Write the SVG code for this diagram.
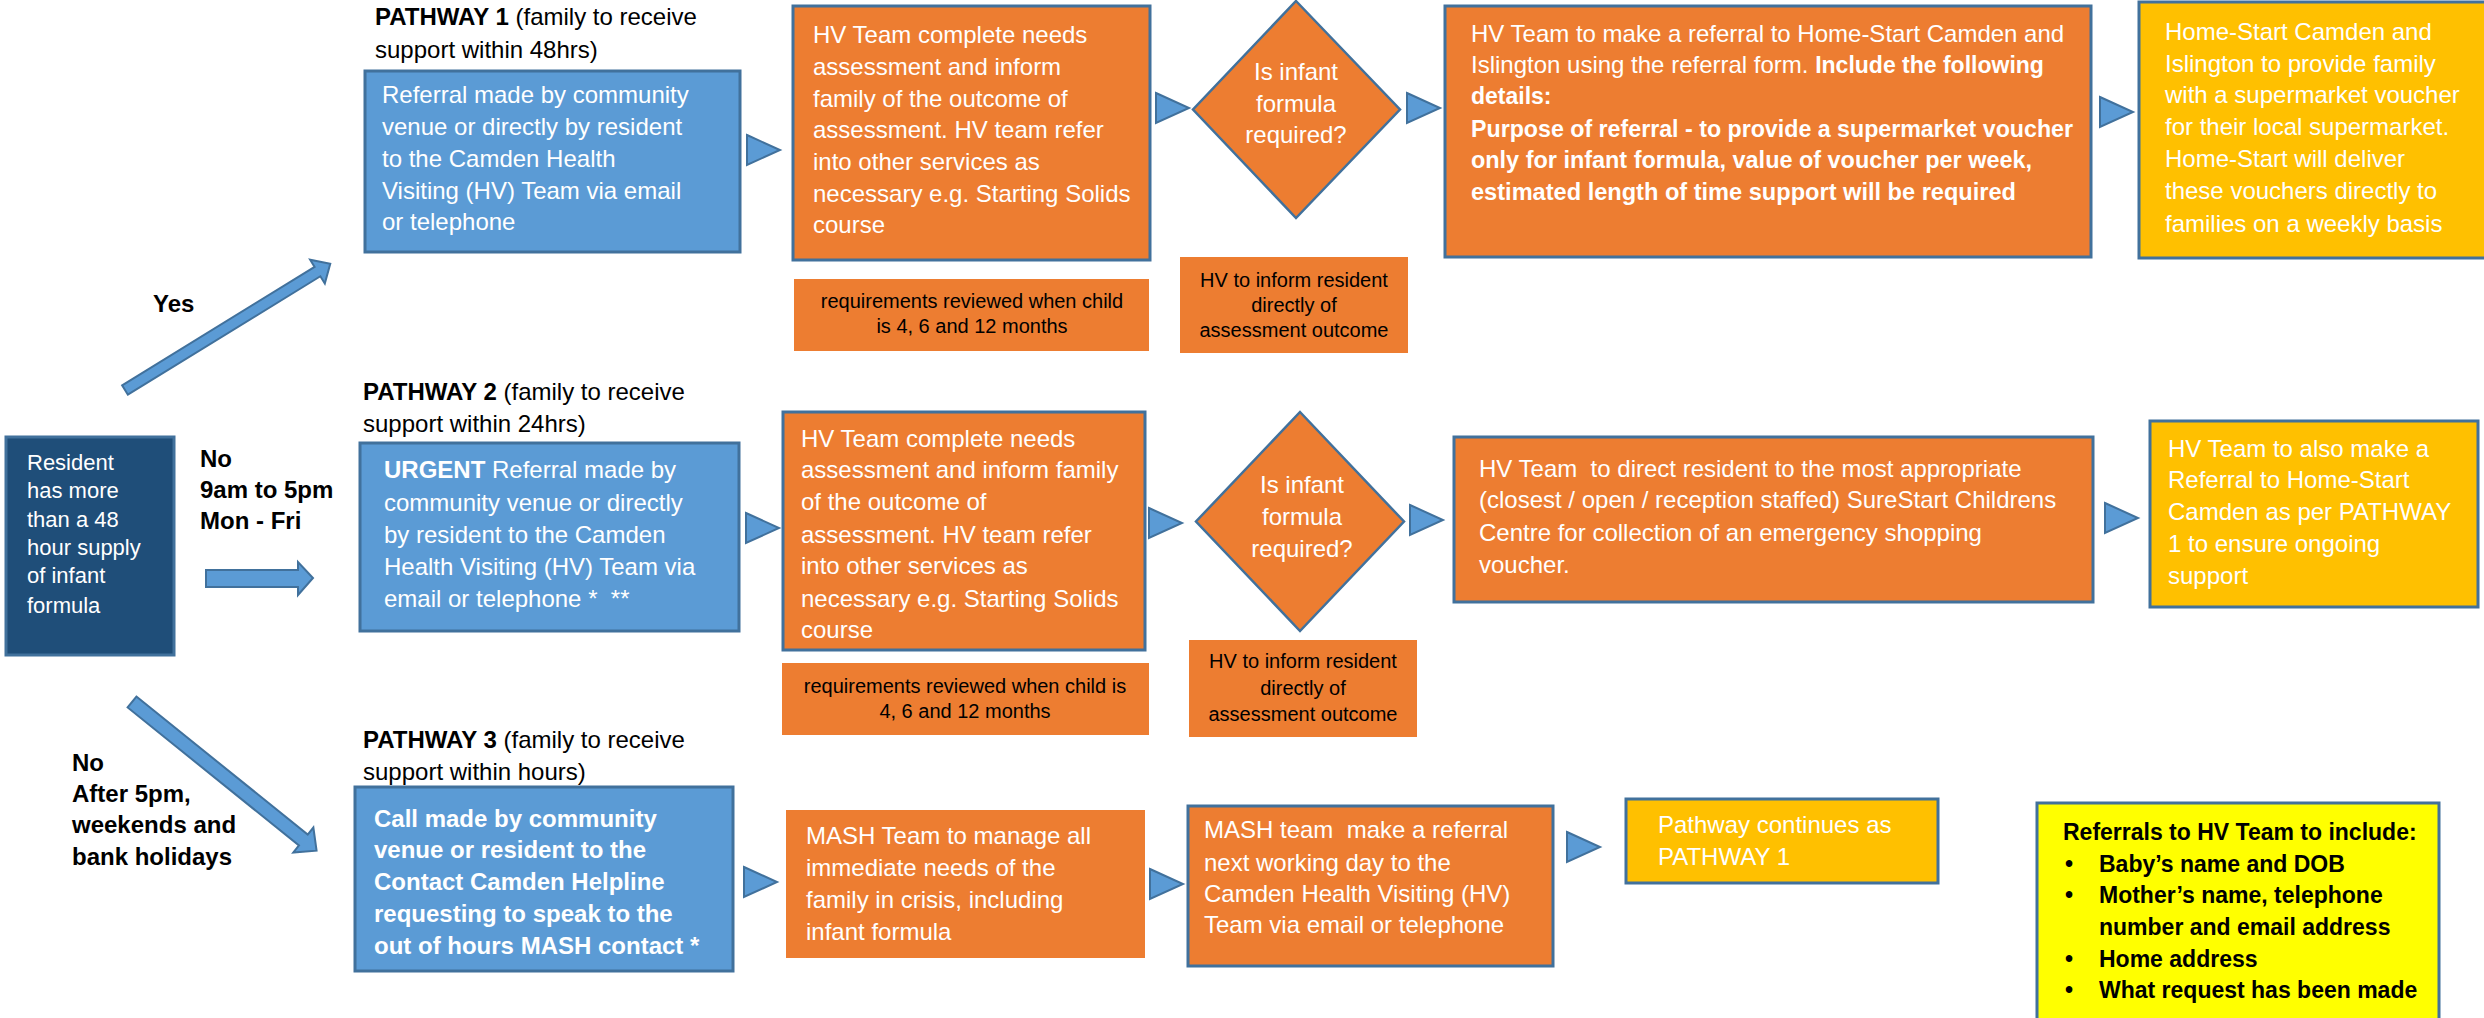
<svg xmlns="http://www.w3.org/2000/svg" xmlns:xlink="http://www.w3.org/1999/xlink" width="2484" height="1018" viewBox="0 0 2484 1018">
<style>
text { font-family: "Liberation Sans", Arial, sans-serif; white-space: pre; }
.t { font-size: 24px; fill: #ffffff; }
.d { font-size: 22px; fill: #ffffff; }
.b { font-weight: bold; }
.k { fill: #000000; }
.s { font-size: 20px; fill: #000000; text-anchor: middle; }
.c { text-anchor: middle; }
.blue { fill: #5B9BD5; stroke: #41719C; stroke-width: 3; }
.navy { fill: #1F4E79; stroke: #41719C; stroke-width: 3; }
.orange { fill: #ED7D31; stroke: #41719C; stroke-width: 3; }
.porange { fill: #ED7D31; }
.gold { fill: #FFC000; stroke: #41719C; stroke-width: 3; }
.yel { fill: #FFFF00; stroke: #41719C; stroke-width: 3; }
.dia { fill: #ED7D31; stroke: #41719C; stroke-width: 2.5; }
.arr { fill: #5B9BD5; stroke: #41719C; stroke-width: 2; }
.r { font-size: 23px; }
</style>
<defs>
<path id="tri" d="M0,-15 L33,0 L0,15 Z"/>
</defs>
<rect width="2484" height="1018" fill="#ffffff"/>

<g id="connectors">
<polygon class="arr" transform="translate(125,390) rotate(-31.6)" points="0,-5.5 226,-5.5 226,-14 241,0 226,14 226,5.5 0,5.5"/>
<polygon class="arr" points="206,570 298,570 298,562 313,578 298,595 298,587 206,587"/>
<polygon class="arr" transform="translate(132,702) rotate(38.85)" points="0,-7 220,-7 220,-16 237,0 220,16 220,7 0,7"/>
<use xlink:href="#tri" href="#tri" class="arr" x="747" y="150"/>
<use xlink:href="#tri" href="#tri" class="arr" x="1156" y="108"/>
<use xlink:href="#tri" href="#tri" class="arr" x="1407" y="108"/>
<use xlink:href="#tri" href="#tri" class="arr" x="2100" y="112"/>
<use xlink:href="#tri" href="#tri" class="arr" x="746" y="528"/>
<use xlink:href="#tri" href="#tri" class="arr" x="1149" y="523"/>
<use xlink:href="#tri" href="#tri" class="arr" x="1410" y="520"/>
<use xlink:href="#tri" href="#tri" class="arr" x="2105" y="518"/>
<use xlink:href="#tri" href="#tri" class="arr" x="744" y="882"/>
<use xlink:href="#tri" href="#tri" class="arr" x="1150" y="884"/>
<use xlink:href="#tri" href="#tri" class="arr" x="1567" y="847"/>
</g>

<g id="labels">
<text class="t k b" x="153" y="312">Yes</text>
<text class="t k b" x="200" y="467">No</text>
<text class="t k b" x="200" y="498">9am to 5pm</text>
<text class="t k b" x="200" y="529">Mon - Fri</text>
<text class="t k b" x="72" y="771">No</text>
<text class="t k b" x="72" y="802">After 5pm,</text>
<text class="t k b" x="72" y="833">weekends and</text>
<text class="t k b" x="72" y="865">bank holidays</text>
<text class="t k" x="375" y="25"><tspan class="b">PATHWAY 1</tspan> (family to receive</text>
<text class="t k" x="375" y="58">support within 48hrs)</text>
<text class="t k" x="363" y="400"><tspan class="b">PATHWAY 2</tspan> (family to receive</text>
<text class="t k" x="363" y="432">support within 24hrs)</text>
<text class="t k" x="363" y="748"><tspan class="b">PATHWAY 3</tspan> (family to receive</text>
<text class="t k" x="363" y="780">support within hours)</text>
</g>

<g id="resident">
<rect class="navy" x="6" y="437" width="168" height="218"/>
<text class="d" x="27" y="470">Resident</text>
<text class="d" x="27" y="498">has more</text>
<text class="d" x="27" y="527">than a 48</text>
<text class="d" x="27" y="555">hour supply</text>
<text class="d" x="27" y="583">of infant</text>
<text class="d" x="27" y="613">formula</text>
</g>

<g id="p1-referral">
<rect class="blue" x="365" y="71" width="375" height="181"/>
<text class="t" x="382" y="103">Referral made by community</text>
<text class="t" x="382" y="135">venue or directly by resident</text>
<text class="t" x="382" y="167">to the Camden Health</text>
<text class="t" x="382" y="199">Visiting (HV) Team via email</text>
<text class="t" x="382" y="230">or telephone</text>
</g>

<g id="p1-assessment">
<rect class="orange" x="793" y="6" width="357" height="254"/>
<text class="t" x="813" y="43">HV Team complete needs</text>
<text class="t" x="813" y="75">assessment and inform</text>
<text class="t" x="813" y="107">family of the outcome of</text>
<text class="t" x="813" y="138">assessment. HV team refer</text>
<text class="t" x="813" y="170">into other services as</text>
<text class="t" x="813" y="202">necessary e.g. Starting Solids</text>
<text class="t" x="813" y="233">course</text>
</g>

<g id="p1-review">
<rect class="porange" x="794" y="279" width="355" height="72"/>
<text class="s" x="972" y="308">requirements reviewed when child</text>
<text class="s" x="972" y="333">is 4, 6 and 12 months</text>
</g>

<g id="p1-decision">
<polygon class="dia" points="1296,1 1400,109.5 1296,218 1193,109.5"/>
<text class="t c" x="1296" y="80">Is infant</text>
<text class="t c" x="1296" y="112">formula</text>
<text class="t c" x="1296" y="143">required?</text>
</g>

<g id="p1-inform">
<rect class="porange" x="1180" y="257" width="228" height="96"/>
<text class="s" x="1294" y="287">HV to inform resident</text>
<text class="s" x="1294" y="312">directly of</text>
<text class="s" x="1294" y="337">assessment outcome</text>
</g>

<g id="p1-homestart-referral">
<rect class="orange" x="1445" y="6" width="646" height="251"/>
<text class="t" x="1471" y="42">HV Team to make a referral to Home-Start Camden and</text>
<text class="t" x="1471" y="73">Islington using the referral form. <tspan class="b r">Include the following</tspan></text>
<text class="t b r" x="1471" y="104">details:</text>
<text class="t b r" x="1471" y="137" textLength="602" lengthAdjust="spacingAndGlyphs">Purpose of referral - to provide a supermarket voucher</text>
<text class="t b r" x="1471" y="168" textLength="561" lengthAdjust="spacingAndGlyphs">only for infant formula, value of voucher per week,</text>
<text class="t b r" x="1471" y="200" textLength="545" lengthAdjust="spacingAndGlyphs">estimated length of time support will be required</text>
</g>

<g id="p1-voucher">
<rect class="gold" x="2139" y="2" width="352" height="256"/>
<text class="t" x="2165" y="40">Home-Start Camden and</text>
<text class="t" x="2165" y="72">Islington to provide family</text>
<text class="t" x="2165" y="103">with a supermarket voucher</text>
<text class="t" x="2165" y="135">for their local supermarket.</text>
<text class="t" x="2165" y="167">Home-Start will deliver</text>
<text class="t" x="2165" y="199">these vouchers directly to</text>
<text class="t" x="2165" y="232">families on a weekly basis</text>
</g>

<g id="p2-referral">
<rect class="blue" x="360" y="443" width="379" height="188"/>
<text class="t" x="384" y="478"><tspan class="b">URGENT</tspan> Referral made by</text>
<text class="t" x="384" y="511">community venue or directly</text>
<text class="t" x="384" y="543">by resident to the Camden</text>
<text class="t" x="384" y="575">Health Visiting (HV) Team via</text>
<text class="t" x="384" y="607">email or telephone *  **</text>
</g>

<g id="p2-assessment">
<rect class="orange" x="783" y="412" width="362" height="238"/>
<text class="t" x="801" y="447">HV Team complete needs</text>
<text class="t" x="801" y="478">assessment and inform family</text>
<text class="t" x="801" y="510">of the outcome of</text>
<text class="t" x="801" y="543">assessment. HV team refer</text>
<text class="t" x="801" y="574">into other services as</text>
<text class="t" x="801" y="607">necessary e.g. Starting Solids</text>
<text class="t" x="801" y="638">course</text>
</g>

<g id="p2-review">
<rect class="porange" x="782" y="663" width="367" height="72"/>
<text class="s" x="965" y="693">requirements reviewed when child is</text>
<text class="s" x="965" y="718">4, 6 and 12 months</text>
</g>

<g id="p2-decision">
<polygon class="dia" points="1300,412 1404,521.5 1300,631 1196,521.5"/>
<text class="t c" x="1302" y="493">Is infant</text>
<text class="t c" x="1302" y="525">formula</text>
<text class="t c" x="1302" y="557">required?</text>
</g>

<g id="p2-inform">
<rect class="porange" x="1189" y="640" width="228" height="97"/>
<text class="s" x="1303" y="668">HV to inform resident</text>
<text class="s" x="1303" y="695">directly of</text>
<text class="s" x="1303" y="721">assessment outcome</text>
</g>

<g id="p2-surestart">
<rect class="orange" x="1454" y="437" width="639" height="165"/>
<text class="t" x="1479" y="477">HV Team  to direct resident to the most appropriate</text>
<text class="t" x="1479" y="508">(closest / open / reception staffed) SureStart Childrens</text>
<text class="t" x="1479" y="541">Centre for collection of an emergency shopping</text>
<text class="t" x="1479" y="573">voucher.</text>
</g>

<g id="p2-homestart">
<rect class="gold" x="2150" y="421" width="328" height="186"/>
<text class="t" x="2168" y="457">HV Team to also make a</text>
<text class="t" x="2168" y="488">Referral to Home-Start</text>
<text class="t" x="2168" y="520">Camden as per PATHWAY</text>
<text class="t" x="2168" y="552">1 to ensure ongoing</text>
<text class="t" x="2168" y="584">support</text>
</g>

<g id="p3-call">
<rect class="blue" x="355" y="787" width="378" height="184"/>
<text class="t b" x="374" y="827">Call made by community</text>
<text class="t b" x="374" y="858">venue or resident to the</text>
<text class="t b" x="374" y="890">Contact Camden Helpline</text>
<text class="t b" x="374" y="922">requesting to speak to the</text>
<text class="t b" x="374" y="954">out of hours MASH contact *</text>
</g>

<g id="p3-mash">
<rect class="porange" x="786" y="810" width="359" height="148"/>
<text class="t" x="806" y="844">MASH Team to manage all</text>
<text class="t" x="806" y="876">immediate needs of the</text>
<text class="t" x="806" y="908">family in crisis, including</text>
<text class="t" x="806" y="940">infant formula</text>
</g>

<g id="p3-mash-referral">
<rect class="orange" x="1188" y="806" width="365" height="160"/>
<text class="t" x="1204" y="838">MASH team  make a referral</text>
<text class="t" x="1204" y="871">next working day to the</text>
<text class="t" x="1204" y="902">Camden Health Visiting (HV)</text>
<text class="t" x="1204" y="933">Team via email or telephone</text>
</g>

<g id="p3-continues">
<rect class="gold" x="1626" y="799" width="312" height="84"/>
<text class="t" x="1658" y="833">Pathway continues as</text>
<text class="t" x="1658" y="865">PATHWAY 1</text>
</g>

<g id="referral-info">
<rect class="yel" x="2037" y="803" width="402" height="230"/>
<text class="t k b r" x="2063" y="840">Referrals to HV Team to include:</text>
<text class="t k b r" x="2065" y="872">•</text>
<text class="t k b r" x="2099" y="872">Baby’s name and DOB</text>
<text class="t k b r" x="2065" y="903">•</text>
<text class="t k b r" x="2099" y="903">Mother’s name, telephone</text>
<text class="t k b r" x="2099" y="935">number and email address</text>
<text class="t k b r" x="2065" y="967">•</text>
<text class="t k b r" x="2099" y="967">Home address</text>
<text class="t k b r" x="2065" y="998">•</text>
<text class="t k b r" x="2099" y="998">What request has been made</text>
</g>
</svg>
